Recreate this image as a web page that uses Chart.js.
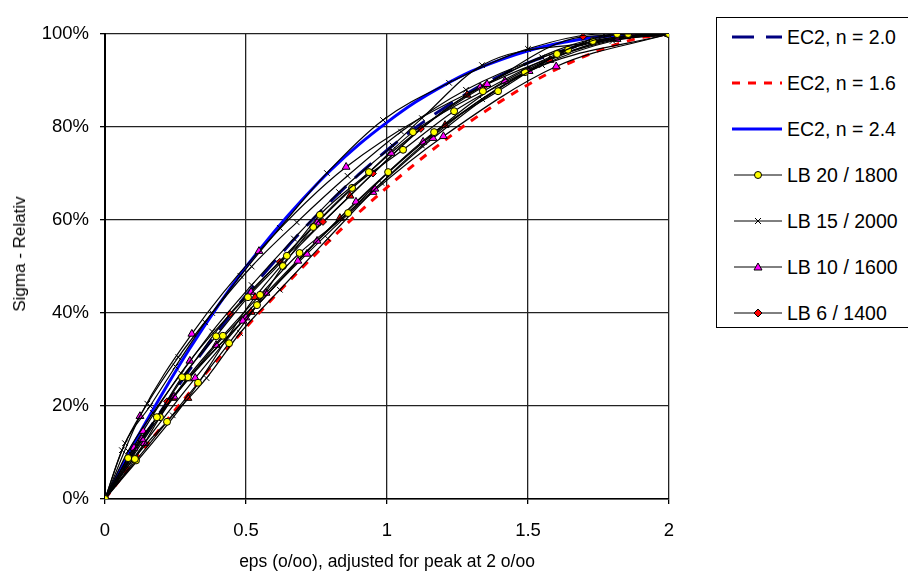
<!DOCTYPE html>
<html>
<head>
<meta charset="utf-8">
<script src="https://cdn.jsdelivr.net/npm/chart.js@4.4.0/dist/chart.umd.min.js"></script>
<style>
html, body { margin: 0; padding: 0; background: #fff; }
body { width: 908px; height: 572px; position: relative; overflow: hidden;
       font-family: Arial, "Liberation Sans", sans-serif; color: #000; }
#wrap { position: absolute; left: 0; top: 0; width: 700px; height: 572px; }
#ytitle { position: absolute; left: 20px; top: 254px; white-space: nowrap; font-size: 17px;
          transform: translate(-50%, -50%) rotate(-90deg); }
#xtitle { position: absolute; left: 387px; top: 561px; white-space: nowrap; font-size: 17.5px;
          transform: translate(-50%, -50%); }
#legend { position: absolute; left: 716px; top: 17px; width: 200px; height: 311px;
          border: 1px solid #000; box-sizing: border-box; }
.item { position: absolute; left: 15px; height: 24px; display: flex; align-items: center;
        font-size: 19.5px; white-space: nowrap; }
.item svg { width: 52px; height: 14px; margin-right: 3px; flex: none; }
</style>
</head>
<body>
<div id="wrap"><canvas id="chart" width="700" height="572"></canvas></div>
<div id="ytitle">Sigma - Relativ</div>
<div id="xtitle">eps (o/oo), adjusted for peak at 2 o/oo</div>
<div id="legend"></div>
<script>
// ---- data (eps in o/oo, sigma in % of peak) ----
const xTicks = [0, 0.5, 1, 1.5, 2];
const yTicks = [0, 20, 40, 60, 80, 100];

// EC2 parabola curves
const ec2Eps = [0, 0.1, 0.2, 0.3, 0.4, 0.5, 0.6, 0.7, 0.8, 0.9, 1.0, 1.1, 1.2, 1.3, 1.4, 1.5, 1.6, 1.7, 1.8, 1.9, 2.0];
const ec2N20 = [0, 9.8, 19, 27.8, 36, 43.8, 51, 57.8, 64, 69.8, 75, 79.8, 84, 87.8, 91, 93.8, 96, 97.8, 99, 99.8, 100];
const ec2N16 = [0, 7.9, 15.5, 22.9, 30, 36.9, 43.5, 49.8, 55.8, 61.6, 67, 72.1, 76.9, 81.4, 85.4, 89.1, 92.4, 95.2, 97.5, 99.2, 100];
const ec2N24 = [0, 11.6, 22.3, 32.3, 41.5, 49.9, 57.5, 64.4, 70.7, 76.2, 81, 85.3, 88.9, 92, 94.4, 96.4, 97.9, 99, 99.6, 99.9, 100];

// LB 20 / 1800 specimens
const lb20aEps = [0, 0.082, 0.184, 0.273, 0.394, 0.507, 0.645, 0.762, 0.936, 1.092, 1.34, 1.603, 1.816, 2];
const lb20aSig = [0, 8.8, 17.6, 26.2, 35, 43.4, 52.3, 61.1, 70.3, 78.9, 87.7, 95.7, 100, 100];
const lb20bEps = [0, 0.106, 0.195, 0.294, 0.418, 0.55, 0.69, 0.862, 1.004, 1.167, 1.394, 1.642, 1.855, 2];
const lb20bSig = [0, 8.6, 17.6, 26.2, 35.1, 43.9, 52.9, 61.5, 70.3, 78.9, 87.7, 96.6, 100, 100];
const lb20cEps = [0, 0.11, 0.22, 0.33, 0.44, 0.539, 0.631, 0.738, 0.876, 1.057, 1.238, 1.489, 1.73, 2];
const lb20cSig = [0, 8.3, 16.6, 25, 33.5, 41.7, 50.1, 58.5, 66.9, 75.1, 83.4, 91.8, 98.5, 100];

// LB 15 / 2000 specimens
const lb15aEps = [0, 0.071, 0.16, 0.25, 0.355, 0.48, 0.62, 0.787, 0.986, 1.22, 1.5, 1.77, 2];
const lb15aSig = [0, 12, 20, 28.5, 38, 48, 58.3, 70.1, 81.5, 89.5, 96.8, 100, 100];
const lb15bEps = [0, 0.082, 0.17, 0.27, 0.38, 0.52, 0.67, 0.83, 1.02, 1.124, 1.337, 1.7, 2];
const lb15bSig = [0, 10.3, 18.5, 27, 36, 46, 56, 66, 76, 81.9, 93.3, 98, 100];
const lb15cEps = [0, 0.1, 0.24, 0.36, 0.479, 0.62, 0.79, 0.98, 1.124, 1.337, 1.55, 1.8, 2];
const lb15cSig = [0, 8.5, 18, 26, 35.7, 45, 56, 68, 76, 86, 93.3, 98.5, 100];
const lb15dEps = [0, 0.06, 0.15, 0.26, 0.38, 0.52, 0.68, 0.86, 1.05, 1.28, 1.55, 1.8, 2];
const lb15dSig = [0, 10.5, 20.5, 30.5, 40, 50, 59.5, 69.5, 79, 88, 95, 99, 100];

// LB 10 / 1600 specimens
const lb10aEps = [0, 0.124, 0.308, 0.546, 0.855, 1.355, 1.816, 2];
const lb10aSig = [0, 17.8, 35.5, 53.3, 71.4, 89.2, 98.9, 100];
const lb10bEps = [0, 0.131, 0.294, 0.489, 0.684, 0.89, 1.128, 1.418, 1.85, 2];
const lb10bSig = [0, 12.9, 25.9, 38.3, 51.2, 63.9, 76.8, 89.9, 99.5, 100];
const lb10cEps = [0, 0.103, 0.245, 0.394, 0.571, 0.752, 0.957, 1.163, 1.504, 2];
const lb10cSig = [0, 11, 22, 33.1, 44.3, 55.5, 66.7, 77.6, 92, 100];
const lb10dEps = [0, 0.135, 0.301, 0.518, 0.752, 1.014, 1.33, 1.872, 2];
const lb10dSig = [0, 14.6, 29.7, 44.5, 59.4, 74.4, 88.5, 100, 100];
const lb10eEps = [0, 0.14, 0.32, 0.5, 0.716, 0.95, 1.2, 1.6, 2];
const lb10eSig = [0, 12, 26, 39, 52.7, 66, 78, 93, 100];

// LB 6 / 1400 specimens
const lb6aEps = [0, 0.22, 0.443, 0.62, 0.773, 0.95, 1.12, 1.35, 1.695, 2];
const lb6aSig = [0, 21, 39.8, 51, 59.6, 70, 79.6, 89, 99.4, 100];
const lb6bEps = [0, 0.241, 0.518, 0.833, 1.206, 1.578, 1.936, 2];
const lb6bSig = [0, 21.7, 40.2, 60.4, 80.4, 94.4, 100, 100];
const lb6cEps = [0, 0.294, 0.532, 0.869, 1.284, 1.95, 2];
const lb6cSig = [0, 21.7, 43.4, 65.2, 86.9, 100, 100];

// ---- styles ----
const markers = {
  "LB 20 / 1800": { pointStyle: "circle", radius: 3.5, bg: "#FFFF00", border: "#000" },
  "LB 15 / 2000": { pointStyle: "crossRot", radius: 4, bg: "#000", border: "#000" },
  "LB 10 / 1600": { pointStyle: "triangle", radius: 4.5, bg: "#FF00FF", border: "#000" },
  "LB 6 / 1400": { pointStyle: "rectRot", radius: 3.5, bg: "#FF0000", border: "#000" },
  "LB 6 / 1400 tri": { pointStyle: "triangle", radius: 4.5, bg: "#FF0000", border: "#000" },
};

const pts = (xs, ys) => xs.map((x, i) => ({ x: x, y: ys[i] }));

function ec2(label, ys, color, dash) {
  return {
    label: label, data: pts(ec2Eps, ys), showLine: true,
    borderColor: color, borderWidth: 3, borderDash: dash,
    pointRadius: 0, cubicInterpolationMode: "monotone", order: 10,
  };
}

function lb(label, xs, ys, markerKey) {
  const m = markers[markerKey || label];
  return {
    label: label, data: pts(xs, ys), showLine: true,
    borderColor: "#000", borderWidth: 1.2, cubicInterpolationMode: "monotone",
    pointStyle: m.pointStyle, pointRadius: m.radius,
    pointBackgroundColor: m.bg, pointBorderColor: m.border, pointBorderWidth: 1,
    order: 1,
  };
}

const datasets = [
  lb("LB 20 / 1800", lb20aEps, lb20aSig),
  lb("LB 20 / 1800", lb20bEps, lb20bSig),
  lb("LB 20 / 1800", lb20cEps, lb20cSig),
  lb("LB 15 / 2000", lb15aEps, lb15aSig),
  lb("LB 15 / 2000", lb15bEps, lb15bSig),
  lb("LB 15 / 2000", lb15cEps, lb15cSig),
  lb("LB 15 / 2000", lb15dEps, lb15dSig),
  lb("LB 10 / 1600", lb10aEps, lb10aSig),
  lb("LB 10 / 1600", lb10bEps, lb10bSig),
  lb("LB 10 / 1600", lb10cEps, lb10cSig),
  lb("LB 10 / 1600", lb10dEps, lb10dSig),
  lb("LB 10 / 1600", lb10eEps, lb10eSig),
  lb("LB 6 / 1400", lb6aEps, lb6aSig),
  lb("LB 6 / 1400", lb6bEps, lb6bSig, "LB 6 / 1400 tri"),
  lb("LB 6 / 1400", lb6cEps, lb6cSig, "LB 6 / 1400 tri"),
  ec2("EC2, n = 2.0", ec2N20, "#000080", [22, 12]),
  ec2("EC2, n = 1.6", ec2N16, "#FF0000", [8, 8]),
  ec2("EC2, n = 2.4", ec2N24, "#0000FF", []),
];

new Chart(document.getElementById("chart"), {
  type: "scatter",
  data: { datasets: datasets },
  options: {
    responsive: false,
    animation: false,
    layout: { padding: { left: 0, top: 34, right: 31, bottom: 0 } },
    plugins: { legend: { display: false }, tooltip: { enabled: false } },
    scales: {
      x: {
        type: "linear", min: 0, max: 2,
        afterBuildTicks: (s) => { s.ticks = xTicks.map(v => ({ value: v })); },
        afterFit: (s) => { s.height = 73; },
        grid: { color: "#222", lineWidth: 1.3, tickLength: 5, tickColor: "#000" },
        border: { color: "#000", width: 1.5 },
        ticks: { color: "#000", padding: 16, font: { family: "Arial, 'Liberation Sans'", size: 18.5 },
                 callback: (v) => String(v) },
      },
      y: {
        type: "linear", min: 0, max: 100,
        afterBuildTicks: (s) => { s.ticks = yTicks.map(v => ({ value: v })); },
        afterFit: (s) => { s.width = 105; },
        grid: { color: "#222", lineWidth: 1.3, tickLength: 5, tickColor: "#000" },
        border: { color: "#000", width: 2 },
        ticks: { color: "#000", padding: 11, font: { family: "Arial, 'Liberation Sans'", size: 18.5 },
                 callback: (v) => v + "%" },
      },
    },
  },
});

// ---- legend (HTML, one entry per group) ----
const legendItems = [
  { label: "EC2, n = 2.0", color: "#000080", width: 3, dash: "22 12" },
  { label: "EC2, n = 1.6", color: "#FF0000", width: 3, dash: "8 8" },
  { label: "EC2, n = 2.4", color: "#0000FF", width: 3, dash: "" },
  { label: "LB 20 / 1800", marker: "LB 20 / 1800" },
  { label: "LB 15 / 2000", marker: "LB 15 / 2000" },
  { label: "LB 10 / 1600", marker: "LB 10 / 1600" },
  { label: "LB 6 / 1400", marker: "LB 6 / 1400" },
];

function markerSvg(m) {
  const c = 26, cy = 7;
  if (m.pointStyle === "circle")
    return `<circle cx="${c}" cy="${cy}" r="3.5" fill="${m.bg}" stroke="#000" stroke-width="1"/>`;
  if (m.pointStyle === "crossRot")
    return `<path d="M${c - 3} ${cy - 3}L${c + 3} ${cy + 3}M${c - 3} ${cy + 3}L${c + 3} ${cy - 3}" stroke="#000" stroke-width="1"/>`;
  if (m.pointStyle === "triangle")
    return `<polygon points="${c},${cy - 4} ${c + 4},${cy + 3} ${c - 4},${cy + 3}" fill="${m.bg}" stroke="#000" stroke-width="1"/>`;
  return `<polygon points="${c},${cy - 4} ${c + 4},${cy} ${c},${cy + 4} ${c - 4},${cy}" fill="${m.bg}" stroke="#000" stroke-width="1"/>`;
}

const legend = document.getElementById("legend");
legendItems.forEach((it, i) => {
  const div = document.createElement("div");
  div.className = "item";
  div.style.top = (19 + i * 46 - 12) + "px";
  let svg;
  if (it.marker) {
    svg = `<svg viewBox="0 0 52 14"><line x1="2" y1="7" x2="50" y2="7" stroke="#000" stroke-width="1"/>${markerSvg(markers[it.marker])}</svg>`;
  } else {
    svg = `<svg viewBox="0 0 52 14"><line x1="0" y1="7" x2="50" y2="7" stroke="${it.color}" stroke-width="${it.width}" stroke-dasharray="${it.dash}"/></svg>`;
  }
  div.innerHTML = svg + "<span>" + it.label + "</span>";
  legend.appendChild(div);
});
</script>
</body>
</html>
